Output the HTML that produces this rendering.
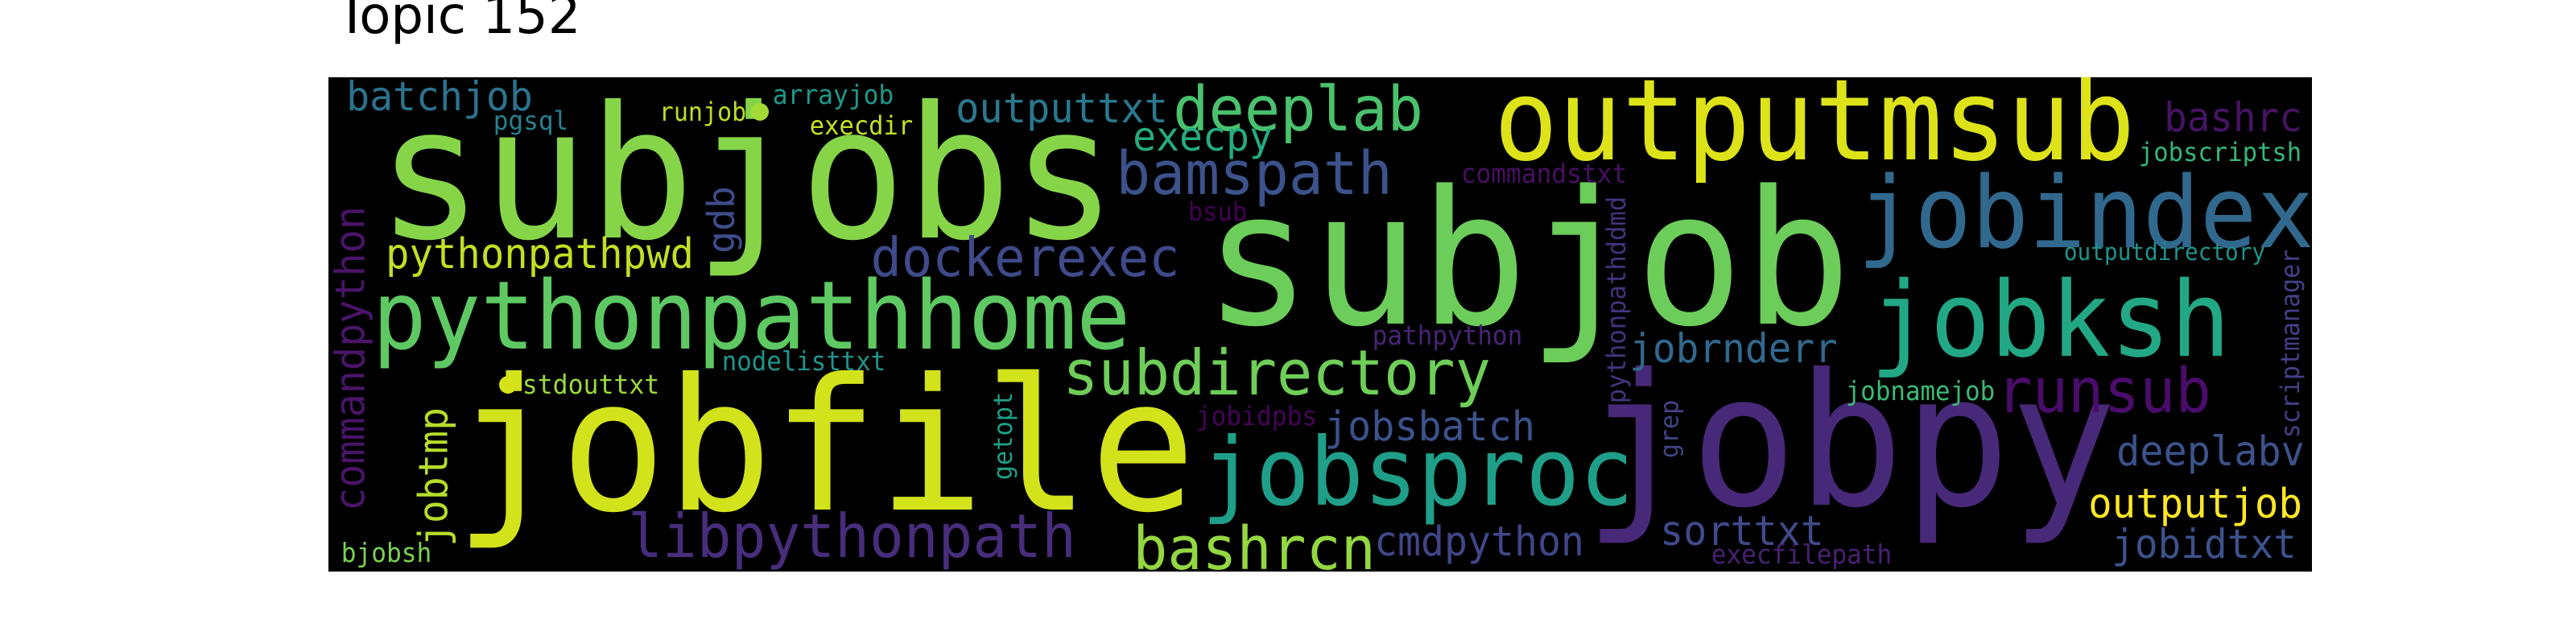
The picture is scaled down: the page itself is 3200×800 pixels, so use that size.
<!DOCTYPE html>
<html><head><meta charset="utf-8"><style>
html,body{margin:0;padding:0;background:#fff;width:3200px;height:800px;overflow:hidden}
svg{display:block}
</style></head><body>
<svg id="wc" xmlns="http://www.w3.org/2000/svg" width="3200" height="800" viewBox="0 0 3200 800">
<text x="418" y="41" font-family="DejaVu Sans, Liberation Sans, sans-serif" font-size="64" fill="#000">Topic 152</text>
<rect x="408" y="96" width="2464" height="614" fill="#000"/>
<g id="words" clip-path="url(#boxclip)"></g>
<defs><clipPath id="boxclip"><rect x="408" y="96" width="2464" height="614"/></clipPath></defs>
</svg>
<script>
const words = ["subjobs","outputmsub","subjob","jobindex","jobksh","pythonpathhome","jobfile","jobpy","jobsproc","subdirectory","deeplab","bamspath","execpy","outputtxt","dockerexec","batchjob","pgsql","runjob","arrayjob","execdir","pythonpathpwd","nodelisttxt","stdouttxt","libpythonpath","bashrcn","cmdpython","jobsbatch","jobidpbs","pathpython","bsub","commandstxt","jobrnderr","runsub","jobnamejob","deeplabv","outputjob","jobidtxt","sorttxt","execfilepath","bashrc","jobscriptsh","outputdirectory","bjobsh","commandpython","gdb","jobtmp","getopt","pythonpathddmd","grep","scriptmanager"];
const sizes = [215,132,218,116,122,111,215,215,110,73,72,70,47,48,63,47,30,30,31,30,49,31,31,71,70,48,48,31,31,30,31,47,72,31,48,48,47,48,31,47,30,28,31,48,44,47,30,30,29,30];
const colors = ["#86d549","#dde318","#6ccd5a","#31688e","#22a884","#5ec962","#d2e21b","#482878","#1f9e89","#6ece58","#4ac16d","#3b528b","#25ab82","#2a788e","#3e4a89","#2c728e","#26828e","#bddf26","#1f988b","#c8e020","#c2df23","#1f958b","#9bd93c","#472d7b","#93d741","#404688","#3b528b","#450457","#482475","#440154","#471063","#31688e","#4a0c6b","#3aba76","#3b528b","#fde725","#3b528b","#3e4a89","#482173","#471365","#35b779","#1f948c","#7ad151","#4a1468","#3e4c8a","#b5de2b","#1fa088","#46337e","#414487","#424086"];
// layout: horizontal -> [left, baseline, inkWidth]; vertical -> [rightEdge, bottom, inkLength]
const layoutX = [477,1861,1504,2312,2328,467,573,1976,1497,1323,1460,1389,1409,1189,1084,432,614,820,961,1007,481,898,650,783,1410,1709,1647,1487,1706,1477,1816,2026,2483,2294,2631,2596,2625,2064,2127,2690,2658,2565,425,460,919,563,1262,2024,2089,2861];
const layoutY = [295,198,402,307,442,433,633,627,627,490,162,241,187,152,343,137,161,150,129,167,333,460,489,692,707,690,547,528,428,274,227,450,512,497,578,643,693,677,700,163,200,323,698,633,313,677,595,500,568,543];
const layoutW = [902,786,787,558,438,933,904,645,528,526,305,338,170,260,379,228,91,106,148,126,379,201,168,551,296,257,258,148,184,71,204,255,261,183,230,262,226,200,222,168,200,248,110,375,80,169,107,255,70,232];
const vertical = [0,0,0,0,0,0,0,0,0,0,0,0,0,0,0,0,0,0,0,0,0,0,0,0,0,0,0,0,0,0,0,0,0,0,0,0,0,0,0,0,0,0,0,1,1,1,1,1,1,1];
const g = document.getElementById('words');
const NS = 'http://www.w3.org/2000/svg';
const HSCALE = 1.06;
for (let i = 0; i < words.length; i++) {
  const fs = sizes[i];
  const t = document.createElementNS(NS, 'text');
  
  
  t.setAttribute('font-family', 'DejaVu Sans Mono, Liberation Mono, monospace');
  t.setAttribute('font-size', fs * HSCALE);
  t.setAttribute('fill', colors[i]);
  t.setAttribute('textLength', layoutW[i] + 0.08 * fs);
  t.setAttribute('lengthAdjust', 'spacingAndGlyphs');
  t.textContent = words[i];
  if (vertical[i]) {
    const xb = layoutX[i] - 0.16 * fs;
    const yb = layoutY[i] + 0.04 * fs;
    t.setAttribute('x', 0);
    t.setAttribute('y', 0);
    t.setAttribute('transform', 'translate(' + xb + ',' + yb + ') rotate(-90)');
  } else {
    t.setAttribute('x', layoutX[i] - 0.04 * fs);
    t.setAttribute('y', layoutY[i]);
  }
  g.appendChild(t);
}
const dotsX = [944, 631];
const dotsY = [139, 478];
const dotColors = ["#a5db36", "#d8e219"];
for (let i = 0; i < dotsX.length; i++) {
  const c = document.createElementNS(NS, 'circle');
  
  
  c.setAttribute('cx', dotsX[i]);
  c.setAttribute('cy', dotsY[i]);
  c.setAttribute('r', 11);
  c.setAttribute('fill', dotColors[i]);
  g.appendChild(c);
}
</script>
</body></html>
